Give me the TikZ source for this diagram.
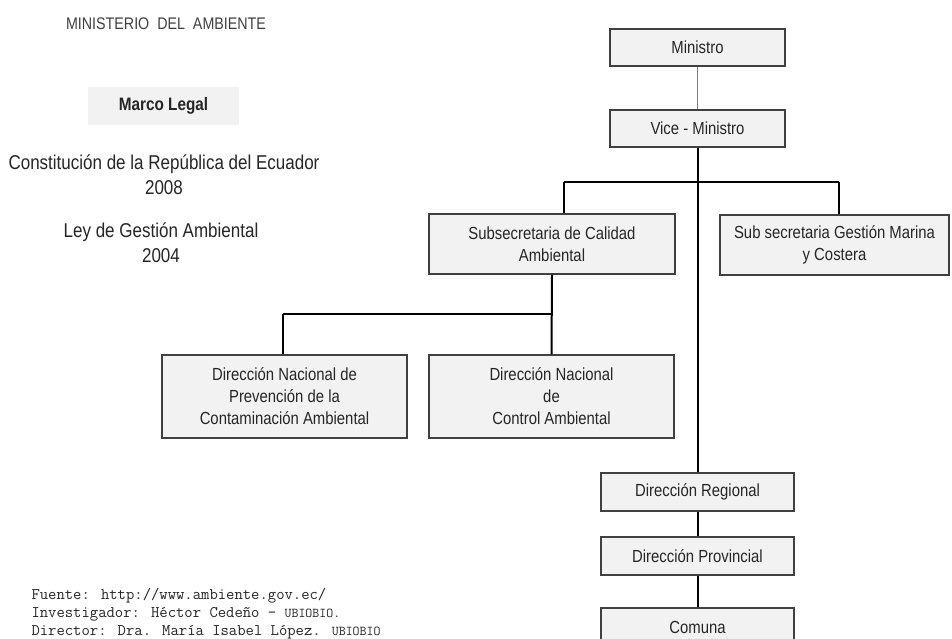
\documentclass[tikz,border=0pt]{standalone}
\usepackage{fontspec}
\setmainfont{Liberation Sans}[FakeStretch=0.85]
\definecolor{boxfill}{HTML}{F2F2F2}
\definecolor{boxline}{HTML}{404040}
\definecolor{txt}{HTML}{262626}
\definecolor{bluelink}{HTML}{4A86D0}
\tikzset{
  orgbox/.style={draw=boxline, line width=1.1pt, fill=boxfill, text=txt, align=center, inner sep=0pt,
    font=\fontsize{17.5}{22}\selectfont},
  link/.style={draw=black, line width=2pt},
  bluelinkstyle/.style={draw=bluelink, line width=1.6pt},
  lefttext/.style={text=txt, align=center, font=\fontsize{20}{25}\selectfont},
  foot/.style={text=txt, align=left, anchor=west, font=\ttfamily\fontsize{16.2}{18.3}\selectfont}
}
\begin{document}
\begin{tikzpicture}[x=1pt,y=-1pt]
\useasboundingbox (0,0) rectangle (952,638);
\fill[white] (0,0) rectangle (952,638);

% left column
\node[text=boxline, font=\fontsize{16.8}{20}\selectfont] (title) at (166,24) {MINISTERIO\ \ DEL\ \ AMBIENTE};
\node[fill=boxfill, minimum width=151pt, minimum height=38pt, inner sep=0pt, text=txt,
      font=\bfseries\fontsize{18}{22}\selectfont] (marco) at (163.5,106) {Marco Legal};
\node[lefttext] (const) at (164,175) {Constitución de la República del Ecuador\\2008};
\node[lefttext] (ley) at (161,243) {Ley de Gestión Ambiental\\2004};

\node[foot] (fuente) at (28,613.5) {Fuente: http://www.ambiente.gov.ec/\\Investigador: Héctor Cedeño - {\fontsize{13.5}{18.3}\selectfont UBIOBIO.}\\Director: Dra. María Isabel López. {\fontsize{13.5}{18.3}\selectfont UBIOBIO}};

% org chart boxes
\node[orgbox, minimum width=175pt, minimum height=37pt] (ministro) at (697.5,47.5) {Ministro};
\node[orgbox, minimum width=175pt, minimum height=37pt] (vice) at (697.5,128.5) {Vice - Ministro};
\node[orgbox, minimum width=246pt, minimum height=60pt] (subcal) at (552,244) {Subsecretaria de Calidad\\Ambiental};
\node[orgbox, minimum width=229pt, minimum height=60pt] (submar) at (834.5,245) {Sub secretaria Gestión Marina\\y Costera};
\node[orgbox, minimum width=245pt, minimum height=83pt] (dnp) at (284.5,396.5) {Dirección Nacional de\\Prevención de la\\Contaminación Ambiental};
\node[orgbox, minimum width=245pt, minimum height=83pt] (dnc) at (551.5,396.5) {Dirección Nacional\\de\\Control Ambiental};
\node[orgbox, minimum width=193pt, minimum height=38pt] (dreg) at (697.5,492) {Dirección Regional};
\node[orgbox, minimum width=193pt, minimum height=38pt] (dprov) at (697.5,556) {Dirección Provincial};
\node[orgbox, minimum width=193pt, minimum height=38pt] (comuna) at (697.5,627) {Comuna};

% connectors
\draw[bluelinkstyle] (ministro.south) -- (vice.north);
\coordinate (bl) at (564,182);
\coordinate (br) at (839,182);
\draw[link] (vice.south) -- (dreg.north);
\draw[link] (bl) -- (br);
\draw[link] (bl) -- (bl |- subcal.north);
\draw[link] (br) -- (br |- submar.north);
\coordinate (b2) at (283,314);
\draw[link] (subcal.south) -- (dnc.north);
\draw[link] (b2) -- (b2 -| subcal.south);
\draw[link] (b2) -- (b2 |- dnp.north);
\draw[link] (dreg.south) -- (dprov.north);
\draw[link] (dprov.south) -- (comuna.north);
\end{tikzpicture}
\end{document}
